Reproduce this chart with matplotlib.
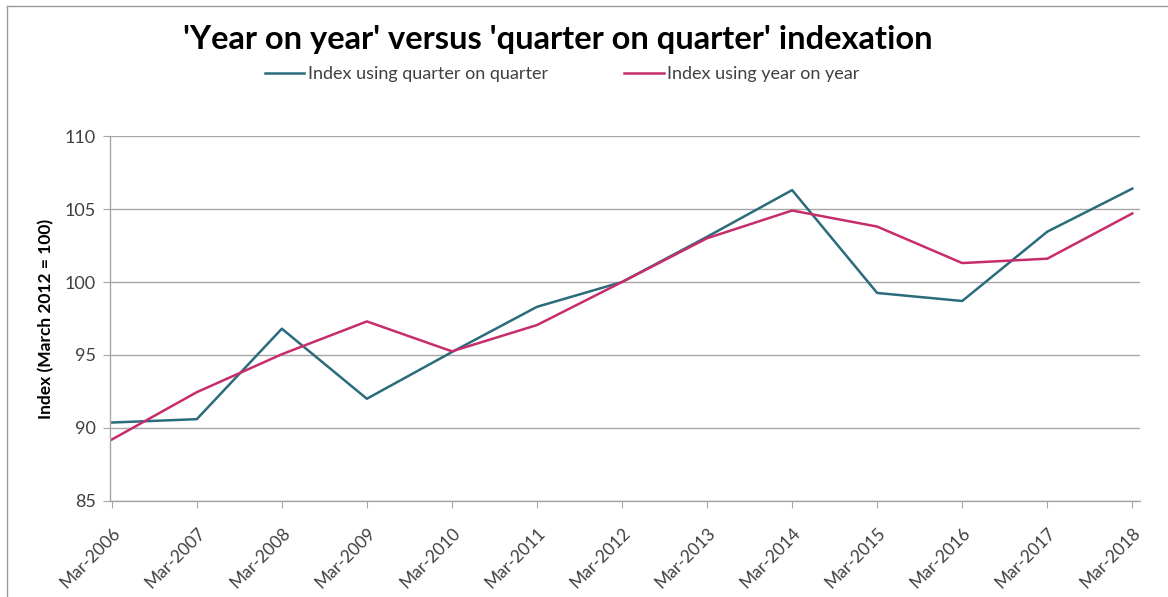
import matplotlib
matplotlib.use("Agg")
import matplotlib.pyplot as plt
from matplotlib.lines import Line2D

# data
periods = ["Mar-2006", "Mar-2007", "Mar-2008", "Mar-2009", "Mar-2010", "Mar-2011",
           "Mar-2012", "Mar-2013", "Mar-2014", "Mar-2015", "Mar-2016", "Mar-2017",
           "Mar-2018"]
quarter_on_quarter = [90.37, 90.6, 96.8, 92.0, 95.2, 98.3, 100.0, 103.1, 106.3,
                      99.25, 98.7, 103.45, 106.4]
year_on_year = [89.2, 92.45, 95.05, 97.3, 95.25, 97.05, 100.0, 103.0, 104.9,
                103.8, 101.3, 101.6, 104.7]

TEAL = "#2B6C7C"
PINK = "#C72C6C"
GRID = "#A6A6A6"
TEXT = "#404040"

plt.rcParams["font.family"] = ["Lato", "DejaVu Sans"]

fig = plt.figure(figsize=(11.68, 5.97), dpi=100)
ax = fig.add_axes([0.0942, 0.161, 0.976 - 0.0942, 0.772 - 0.161])

x = list(range(len(periods)))
ax.plot(x, quarter_on_quarter, color=TEAL, lw=1.8, label="Index using quarter on quarter")
ax.plot(x, year_on_year, color=PINK, lw=1.8, label="Index using year on year")

ax.set_xlim(-0.02, 12.09)
ax.set_ylim(85, 110)
ax.set_yticks([85, 90, 95, 100, 105, 110])
ax.set_xticks(x)
ax.set_xticklabels(periods, rotation=45, ha="right", va="top",
                   rotation_mode="anchor", fontsize=12.5, color=TEXT)
ax.tick_params(axis="y", labelsize=13, colors=TEXT, length=5, color=GRID, pad=5)
ax.tick_params(axis="x", length=5, color=GRID, pad=12)
ax.yaxis.grid(True, color=GRID, lw=1)
ax.set_axisbelow(True)

for side in ["top", "right"]:
    ax.spines[side].set_visible(False)
for side in ["left", "bottom"]:
    ax.spines[side].set_color(GRID)
    ax.spines[side].set_linewidth(1)

ax.set_ylabel("Index (March 2012 = 100)", fontsize=12.5, fontweight="bold",
              color="black", labelpad=8)

fig.text(558 / 1168, 1 - 40 / 597, "'Year on year' versus 'quarter on quarter' indexation",
         ha="center", va="center", fontsize=23.5, fontweight="bold", color="black")

fig.legend(loc="center", bbox_to_anchor=(562 / 1168, 1 - 74 / 597), ncol=2, frameon=False,
           fontsize=13, handlelength=2.2, handletextpad=0.2, columnspacing=4.2,
           labelcolor=TEXT)

# outer chart border (left and top only are visible)
fig.add_artist(Line2D([7 / 1168, 7 / 1168], [0, 1 - 6 / 597], transform=fig.transFigure,
                      color="#9A9A9A", lw=1))
fig.add_artist(Line2D([7 / 1168, 1], [1 - 6 / 597, 1 - 6 / 597], transform=fig.transFigure,
                      color="#9A9A9A", lw=1))

fig.savefig("out.png", dpi=100)
